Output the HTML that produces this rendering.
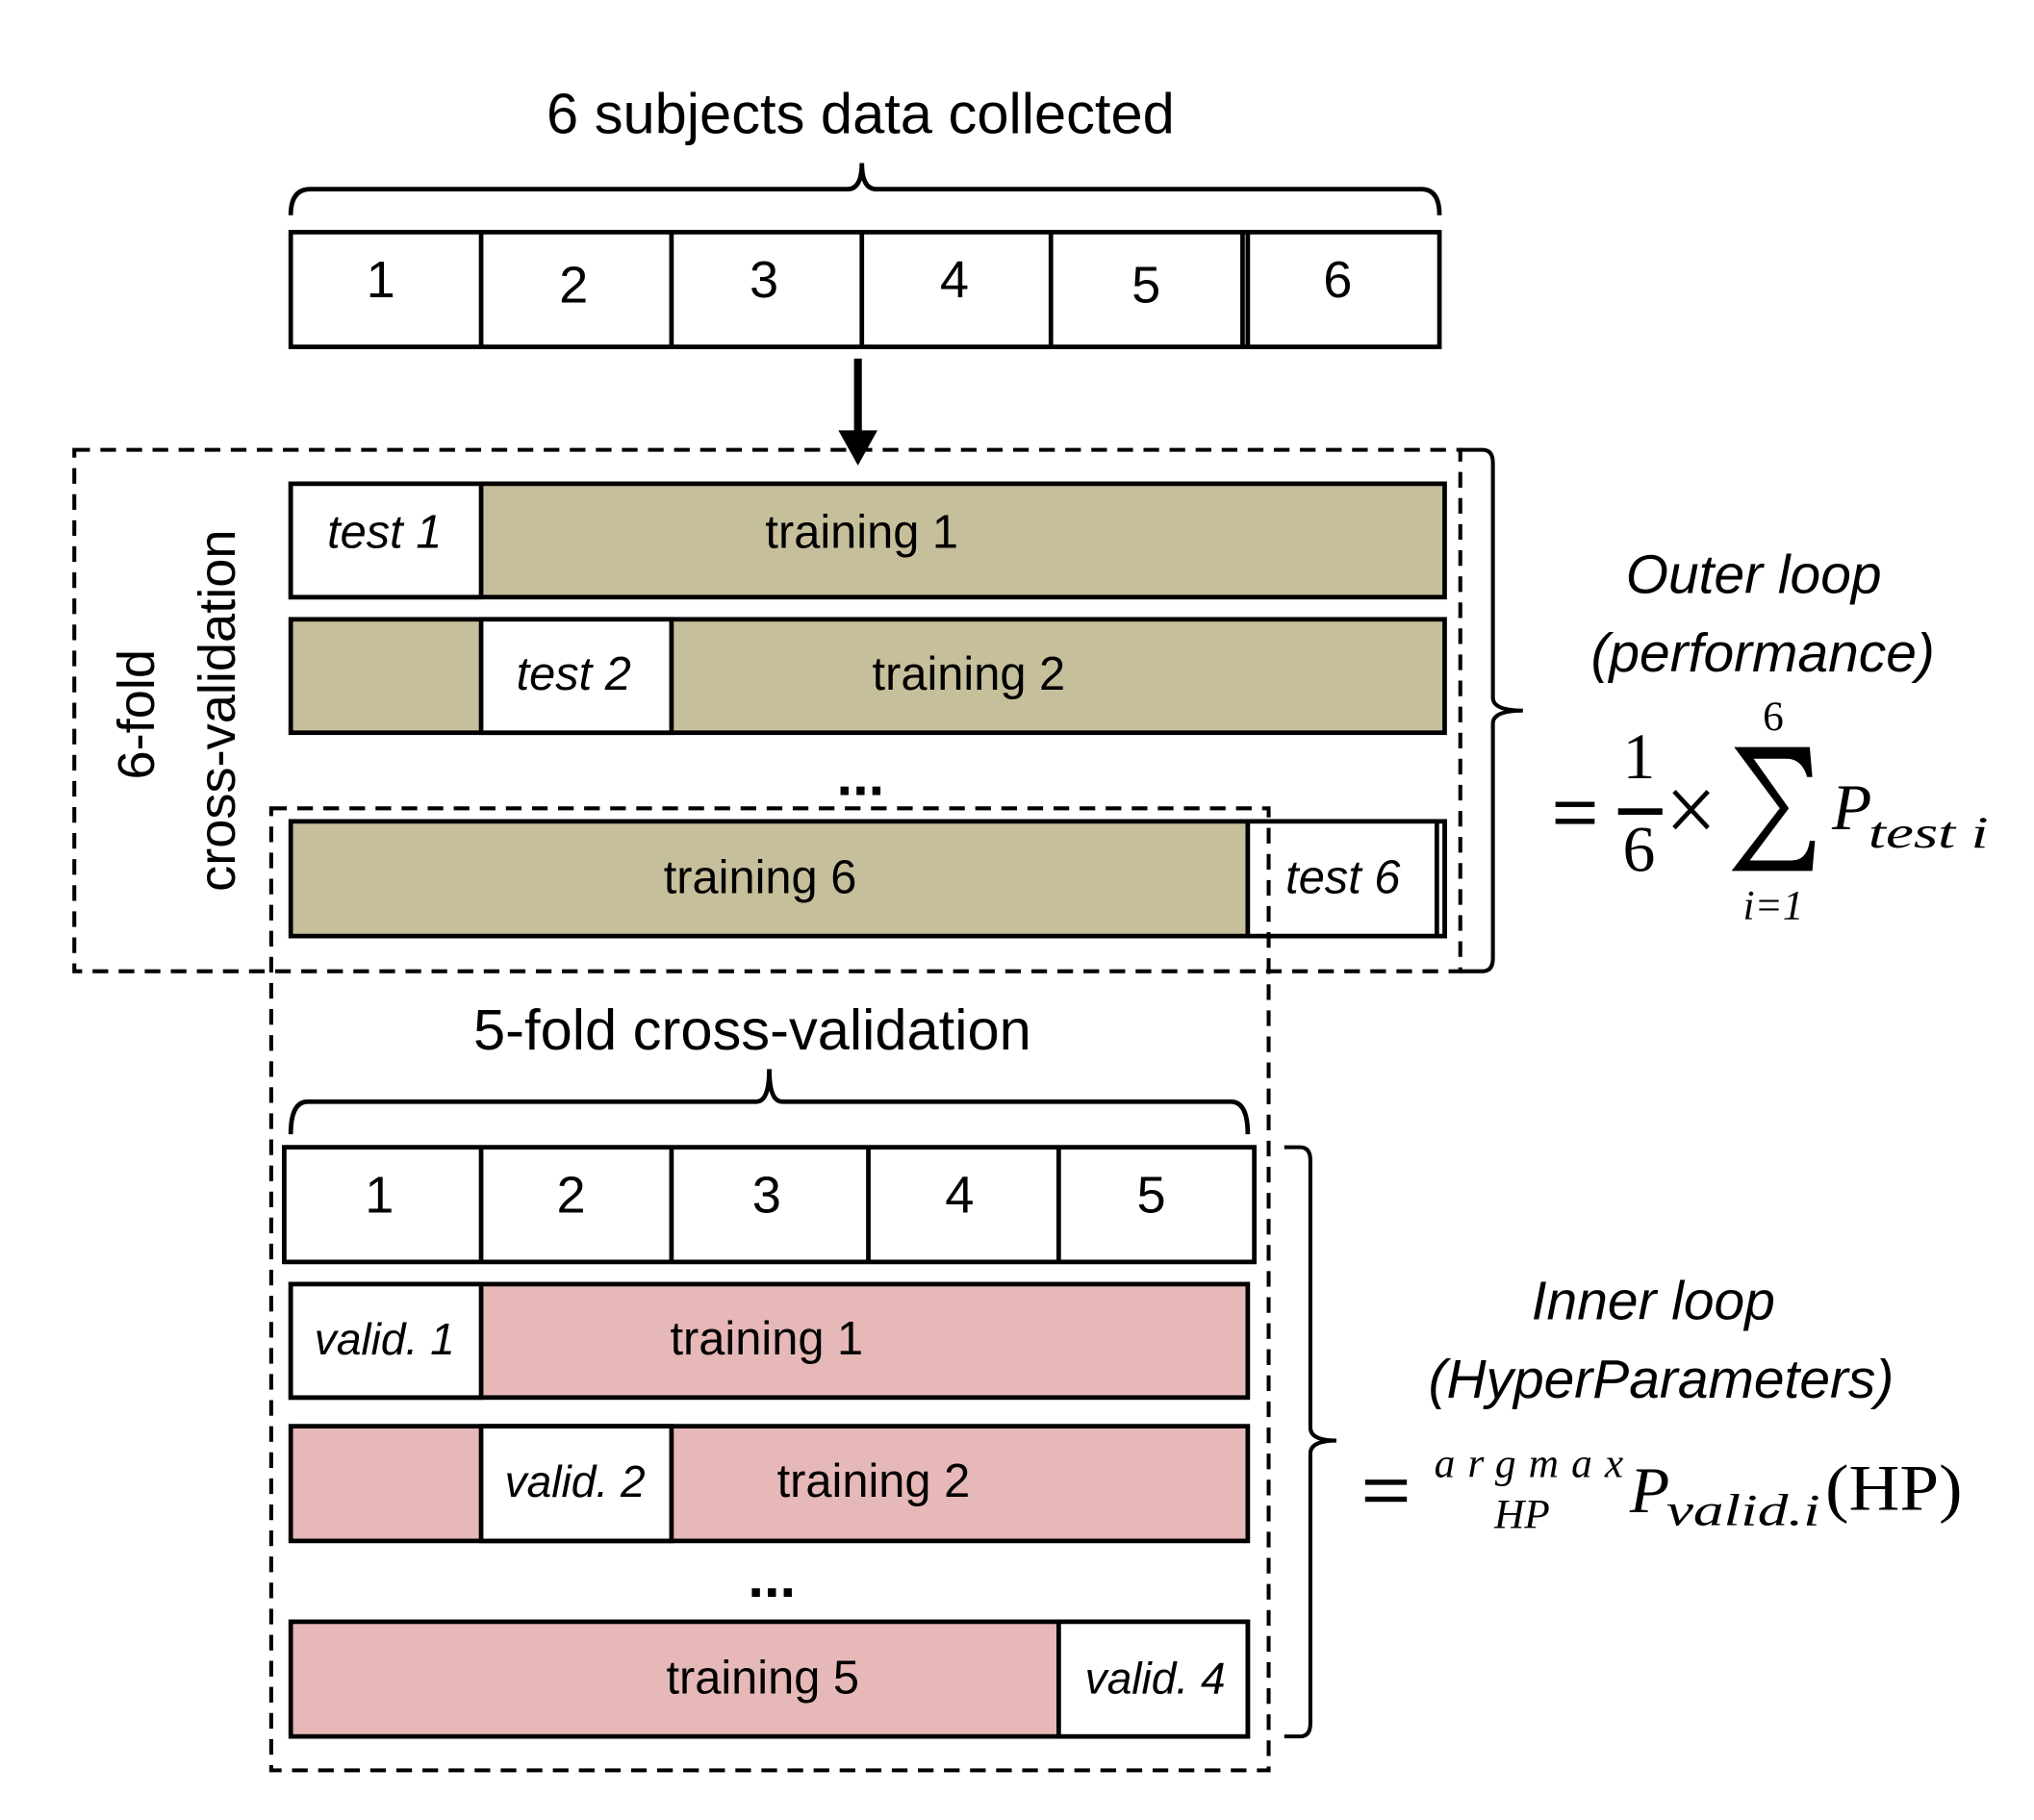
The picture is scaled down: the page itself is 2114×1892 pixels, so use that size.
<!DOCTYPE html>
<html><head><meta charset="utf-8"><style>html,body{margin:0;padding:0;background:#fff}svg{display:block}</style></head>
<body>
<svg width="2114" height="1892" viewBox="0 0 1560 1396" xmlns="http://www.w3.org/2000/svg" font-family="Liberation Sans, sans-serif">
<rect width="1560" height="1396" fill="#fff"/>
<g fill="none" stroke="#000" stroke-width="3.5">
<path d="M223,165 Q223,145 238,145 L650,145 Q661,145 661,125 Q661,145 672,145 L1090,145 Q1104,145 1104,165"/>
<rect x="223" y="178" width="881" height="88" fill="#fff"/>
<path d="M369,178V266M515,178V266M661,178V266M806,178V266M953,178V266M957,178V266"/>
<path d="M658,275V333" stroke-width="6"/>
</g>
<path d="M643,330L673,330L658,357Z" fill="#000"/>
<rect x="57" y="345" width="1063" height="400" fill="none" stroke="#000" stroke-width="3" stroke-dasharray="12,8"/>
<g stroke="#000" stroke-width="3.5">
<rect x="223" y="371" width="885" height="87" fill="#c6bf9b"/>
<rect x="223" y="371" width="146" height="87" fill="#fff"/>
<rect x="223" y="475" width="885" height="87" fill="#c6bf9b"/>
<rect x="369" y="475" width="146" height="87" fill="#fff"/>
<rect x="223" y="630" width="885" height="88" fill="#c6bf9b"/>
<rect x="957" y="630" width="151" height="88" fill="#fff"/>
<path d="M1102,630V718" fill="none"/>
</g>
<path d="M1120,345 L1137,345 Q1145,345 1145,355 L1145,535 Q1145,545 1168,545 Q1145,545 1145,555 L1145,735 Q1145,745 1137,745 L1120,745" fill="none" stroke="#000" stroke-width="3"/>
<rect x="208" y="620" width="765" height="738" fill="none" stroke="#000" stroke-width="3" stroke-dasharray="12,8"/>
<g fill="none" stroke="#000" stroke-width="3.5">
<path d="M223,870 Q223,845 236,845 L580,845 Q590,845 590,820 Q590,845 600,845 L944,845 Q957,845 957,870"/>
<rect x="218" y="880" width="744" height="88" fill="#fff"/>
<path d="M369,880V968M515,880V968M666,880V968M812,880V968"/>
</g>
<g stroke="#000" stroke-width="3.5">
<rect x="223" y="985" width="734" height="87" fill="#e6b8b7"/>
<rect x="223" y="985" width="146" height="87" fill="#fff"/>
<rect x="223" y="1094" width="734" height="88" fill="#e6b8b7"/>
<rect x="369" y="1094" width="146" height="88" fill="#fff"/>
<rect x="223" y="1244" width="734" height="88" fill="#e6b8b7"/>
<rect x="812" y="1244" width="145" height="88" fill="#fff"/>
</g>
<path d="M985,880 L997,880 Q1005,880 1005,890 L1005,1095 Q1005,1105 1025,1105 Q1005,1105 1005,1115 L1005,1322 Q1005,1332 997,1332 L985,1332" fill="none" stroke="#000" stroke-width="3"/>
<g fill="#000" font-size="40" text-anchor="middle">
<text x="660" y="102" font-size="44">6 subjects data collected</text>
<text x="292" y="228">1</text><text x="440" y="232">2</text><text x="586" y="228">3</text><text x="732" y="228">4</text><text x="879" y="232">5</text><text x="1026" y="228">6</text>
<text x="295" y="420" font-style="italic" font-size="36">test 1</text>
<text x="661" y="420" font-size="36">training 1</text>
<text x="440" y="529" font-style="italic" font-size="36">test 2</text>
<text x="743" y="529" font-size="36">training 2</text>
<text x="660" y="610" font-size="44" font-weight="bold">...</text>
<text x="583" y="685" font-size="36">training 6</text>
<text x="1030" y="685" font-style="italic" font-size="36">test 6</text>
<text transform="translate(118,548) rotate(-90)" font-size="40">6-fold</text>
<text transform="translate(180,545) rotate(-90)" font-size="40">cross-validation</text>
<text x="1345" y="455" font-style="italic" font-size="42">Outer loop</text>
<text x="1352" y="515" font-style="italic" font-size="42">(performance)</text>
<text x="577" y="805" font-size="44">5-fold cross-validation</text>
<text x="291" y="930">1</text><text x="438" y="930">2</text><text x="588" y="930">3</text><text x="736" y="930">4</text><text x="883" y="930">5</text>
<text x="295" y="1039" font-style="italic" font-size="34">valid. 1</text>
<text x="588" y="1039" font-size="36">training 1</text>
<text x="441" y="1148" font-style="italic" font-size="34">valid. 2</text>
<text x="670" y="1148" font-size="36">training 2</text>
<text x="592" y="1225" font-size="44" font-weight="bold">...</text>
<text x="585" y="1299" font-size="36">training 5</text>
<text x="886" y="1299" font-style="italic" font-size="34">valid. 4</text>
<text x="1268" y="1012" font-style="italic" font-size="42">Inner loop</text>
<text x="1274" y="1072" font-style="italic" font-size="42">(HyperParameters)</text>
</g>
<g fill="#000" font-family="Liberation Serif, serif">
<rect x="1193" y="615" width="30" height="4"/><rect x="1193" y="628" width="30" height="4"/>
<text x="1257" y="597" font-size="50" text-anchor="middle">1</text>
<rect x="1241" y="620" width="34" height="5"/>
<text x="1257" y="668" font-size="50" text-anchor="middle">6</text>
<path d="M1284,607 L1310,635 M1310,607 L1284,635" stroke="#000" stroke-width="3.5" fill="none"/>
<text x="1360" y="560" font-size="32" text-anchor="middle">6</text>
<path d="M1330,573 L1388,573 L1390,596 L1386,596 Q1382,582 1370,582 L1345,582 L1372,620 L1342,660 L1374,660 Q1386,660 1388,645 L1392,645 L1390,668 L1328,668 L1365,620 Z" fill="#000"/>
<text x="1360" y="705" font-size="32" font-style="italic" text-anchor="middle">i=1</text>
<text x="1405" y="636" font-size="50" font-style="italic">P</text>
<text x="1433" y="650" font-size="34" font-style="italic" textLength="92" lengthAdjust="spacingAndGlyphs">test i</text>
<rect x="1047" y="1135" width="32" height="4"/><rect x="1047" y="1148" width="32" height="4"/>
<text x="1100" y="1133" font-size="32" font-style="italic" textLength="145" lengthAdjust="spacing">argmax</text>
<text x="1146" y="1172" font-size="32" font-style="italic">HP</text>
<text x="1250" y="1160" font-size="50" font-style="italic">P</text>
<text x="1278" y="1170" font-size="34" font-style="italic" textLength="118" lengthAdjust="spacingAndGlyphs">valid.i</text>
<text x="1400" y="1158" font-size="50" textLength="105" lengthAdjust="spacingAndGlyphs">(HP)</text>
</g>
</svg>
</body></html>
